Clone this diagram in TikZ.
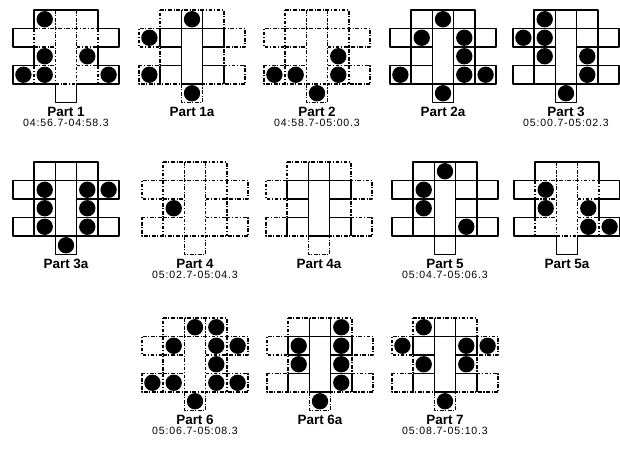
\documentclass[tikz,border=0pt]{standalone}
\usepackage{fontspec}
\setmainfont{Liberation Sans}
\usepackage{tikz}
\usetikzlibrary{positioning}

% one panel of the maze: #1 centre x, #2 top y, #3 outline style, #4 inner style, #5 filled cells
\newcommand{\drawmaze}[5]{%
  \begin{scope}[shift={(#1-53.25,#2)}, x={(0.639cm,0)}, y={(0,-0.555cm)}]
    \draw[mazeline, #3] (1,0) -- (4,0) -- (4,1) -- (5,1) -- (5,2) -- (4,2) -- (4,3) -- (5,3)
        -- (5,4) -- (3,4) -- (3,5) -- (2,5) -- (2,4) -- (0,4) -- (0,3) -- (1,3) -- (1,2)
        -- (0,2) -- (0,1) -- (1,1) -- cycle;
    \draw[mazeline, #4] (2,0) -- (2,4) (3,0) -- (3,4) (1,1) -- (4,1)
        (1,1) -- (1,2) (1,3) -- (1,4) (4,1) -- (4,2) (4,3) -- (4,4)
        (1,2) -- (2,2) (3,2) -- (4,2) (1,3) -- (2,3) (3,3) -- (4,3) (2,4) -- (3,4);
    \if\relax\detokenize{#5}\relax\else
      \foreach \c/\r in {#5} \fill (\c+0.5,\r+0.5) circle[radius=0.245cm];
    \fi
  \end{scope}}

\begin{document}
\begin{tikzpicture}[x=0.03cm, y=-0.03cm,
    mazeline/.style={line width=1.4pt, line join=round},
    dashln/.style={dash pattern=on 3.2pt off 1.4pt on 0.9pt off 1.4pt},
    partlbl/.style={inner sep=0pt, font=\fontsize{11.5}{13}\selectfont\bfseries},
    timelbl/.style={inner sep=0pt, font=\fontsize{9}{10}\selectfont\addfontfeature{LetterSpace=8}}]
    \useasboundingbox (0,0) rectangle (620,449);

    % Top row
    \drawmaze{66}{10}{solid}{dashln}{1/0,1/2,3/2,0/3,1/3,4/3}
    \drawmaze{192}{10}{dashln}{solid}{2/0,0/1,0/3,2/4}
    \drawmaze{317}{10}{dashln}{dashln}{3/2,0/3,1/3,3/3,2/4}
    \drawmaze{443}{10}{solid}{solid}{2/0,1/1,3/1,3/2,0/3,3/3,4/3,2/4}
    \drawmaze{566}{10}{solid}{solid}{1/0,0/1,1/1,1/2,3/2,3/3,2/4}

    % Middle row
    \drawmaze{66}{162}{solid}{solid}{1/1,3/1,4/1,1/2,3/2,1/3,3/3,2/4}
    \drawmaze{195}{162}{dashln}{dashln}{1/2}
    \drawmaze{319}{162}{dashln}{solid}{}
    \drawmaze{445}{162}{solid}{solid}{2/0,1/1,1/2,3/3}
    \drawmaze{567}{162}{solid}{dashln}{1/1,1/2,3/2,3/3,4/3}

    % Bottom row
    \drawmaze{195}{318}{dashln}{dashln}{2/0,3/0,1/1,3/1,4/1,3/2,0/3,1/3,3/3,4/3,2/4}
    \drawmaze{320}{318}{dashln}{solid}{3/0,1/1,3/1,1/2,3/2,3/3,2/4}
    \drawmaze{445}{318}{dashln}{solid}{1/0,0/1,3/1,4/1,1/2,3/2,2/4}

    % Labels
    \node[partlbl] (p1) at (66,112) {Part 1};
    \node[timelbl, below=2pt of p1] (t1) {04:56.7-04:58.3};
    \node[partlbl] (p1a) at (192,112) {Part 1a};
    \node[partlbl] (p2) at (317,112) {Part 2};
    \node[timelbl, below=2pt of p2] (t2) {04:58.7-05:00.3};
    \node[partlbl] (p2a) at (443,112) {Part 2a};
    \node[partlbl] (p3) at (566,112) {Part 3};
    \node[timelbl, below=2pt of p3] (t3) {05:00.7-05:02.3};

    \node[partlbl] (p3a) at (66,264) {Part 3a};
    \node[partlbl] (p4) at (195,264) {Part 4};
    \node[timelbl, below=2pt of p4] (t4) {05:02.7-05:04.3};
    \node[partlbl] (p4a) at (319,264) {Part 4a};
    \node[partlbl] (p5) at (445,264) {Part 5};
    \node[timelbl, below=2pt of p5] (t5) {05:04.7-05:06.3};
    \node[partlbl] (p5a) at (567,264) {Part 5a};

    \node[partlbl] (p6) at (195,420) {Part 6};
    \node[timelbl, below=2pt of p6] (t6) {05:06.7-05:08.3};
    \node[partlbl] (p6a) at (320,420) {Part 6a};
    \node[partlbl] (p7) at (445,420) {Part 7};
    \node[timelbl, below=2pt of p7] (t7) {05:08.7-05:10.3};
\end{tikzpicture}
\end{document}
